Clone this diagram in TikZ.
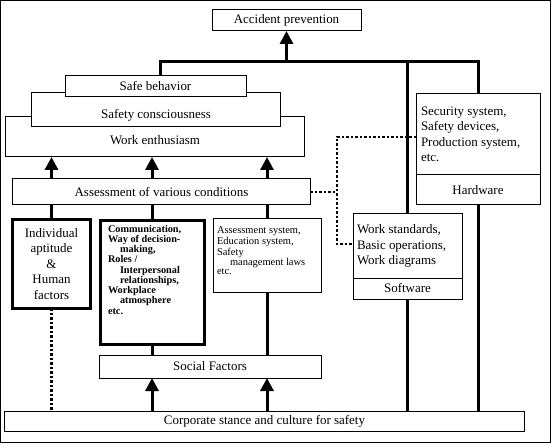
\documentclass[tikz,border=0pt]{standalone}
\usepackage{fontspec}
\setmainfont{Liberation Serif}
\usetikzlibrary{arrows.meta}
\begin{document}
\begin{tikzpicture}[x=1bp,y=-1bp, font=\fontsize{13}{15.5}\selectfont,
  bx/.style 2 args={draw, fill=white, line width=1bp, inner sep=0pt, outer sep=0pt, minimum width=#1, minimum height=#2},
  conn/.style={line width=3bp},
  arr/.style={line width=3bp, -{Triangle[width=13bp,length=13bp]}},
  dots/.style={line width=2.5bp, dash pattern=on 2.5bp off 2bp},
]
\useasboundingbox (0,0) rectangle (552,445);
\draw[line width=1bp] (0.5,0.5) rectangle (550.5,442.5);

\node[bx={149bp}{21bp}] (acc) at (286.5,20.5) {Accident prevention};
\node[bx={298bp}{40bp}, label={[yshift=-3bp]center:Work enthusiasm}] (work) at (155,137) {};
\node[bx={248bp}{34bp}, label={[yshift=-5bp]center:Safety consciousness}] (safecon) at (156,110) {};
\node[bx={181bp}{21bp}] (safebeh) at (155.5,86.5) {Safe behavior};
\node[bx={297bp}{26bp}] (assess) at (161.5,192) {Assessment of various conditions};
\node[bx={77bp}{88bp}, line width=3bp, align=center] (indiv) at (51.5,264) {Individual\\aptitude\\\&\\Human\\factors};
\node[bx={104bp}{123bp}, line width=3bp] (comm) at (152,282.5) {\parbox[c][115bp][t]{88bp}{\fontsize{10.3}{10.3}\selectfont\bfseries\raggedright Communication,\\ Way of decision-\\ \hspace*{12bp}making,\\ Roles /\\ \hspace*{12bp}Interpersonal\\ \hspace*{12bp}relationships,\\ Workplace\\ \hspace*{12bp}atmosphere\\ etc.}};
\node[bx={108bp}{73bp}] (asys) at (267,255.5) {\parbox[c][57bp][t]{100bp}{\fontsize{10.5}{9}\selectfont\raggedright Assessment system,\\ Education system,\\ Safety\\ \hspace*{13bp}management laws\\ etc.}};
\node[bx={222bp}{23bp}] (social) at (210,366.5) {Social Factors};
\node[bx={519bp}{20bp}] (corp) at (264.5,421) {Corporate stance and culture for safety};
\node[bx={124bp}{81bp}] (hwtop) at (478,134.5) {\parbox{114bp}{\raggedright Security system,\\ Safety devices,\\ Production system,\\ etc.}};
\node[bx={124bp}{30bp}] (hw) at (478,190) {Hardware};
\node[bx={109bp}{64bp}] (swtop) at (407.5,246) {\parbox{101bp}{\raggedright Work standards,\\ Basic operations,\\ Work diagrams}};
\node[bx={109bp}{21bp}] (sw) at (407.5,288.5) {Software};

\coordinate (busL) at (160,62);
\coordinate (busR) at (478,62);
\draw[conn] (safebeh.north -| busL) -- (busL) -- (busR) -- (hwtop.north);
\draw[arr] (busL -| acc.south) -- (acc.south);
\draw[conn] (busL -| swtop.north) -- (swtop.north);
\draw[conn] (sw.south) -- (corp.north -| sw.south);
\draw[conn] (hw.south) -- (corp.north -| hw.south);

\foreach \n in {indiv, comm, asys} {
  \draw[arr] (assess.north -| \n.north) -- (work.south -| \n.north);
  \draw[conn] (\n.north) -- (assess.south -| \n.north);
}
\draw[conn] (comm.south) -- (social.north -| comm.south);
\draw[conn] (asys.south) -- (social.north -| asys.south);
\draw[arr] (corp.north -| comm.south) -- (social.south -| comm.south);
\draw[arr] (corp.north -| asys.south) -- (social.south -| asys.south);

\draw[dots] (indiv.south) -- (corp.north -| indiv.south);
\coordinate (dT) at (337,137);
\coordinate (dB) at (337,244);
\draw[dots] (assess.east) -- (assess.east -| dT);
\draw[dots] (dT -| hwtop.west) -- (dT) -- (dB) -- (dB -| swtop.west);
\end{tikzpicture}
\end{document}
